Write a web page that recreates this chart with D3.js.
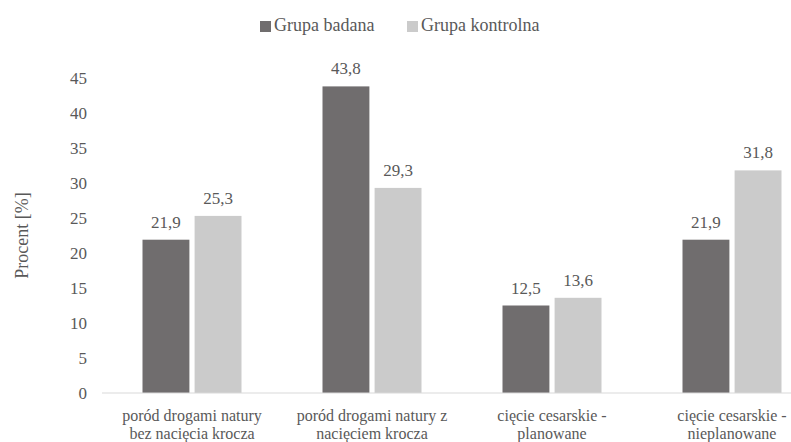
<!DOCTYPE html>
<html>
<head>
<meta charset="utf-8">
<script src="https://cdn.jsdelivr.net/npm/d3@7"></script>
<style>
  html, body { margin: 0; padding: 0; background: #fff; }
  svg { display: block; }
  svg text { font-family: "Liberation Serif", "Times New Roman", serif; }
</style>
</head>
<body>
<svg id="chart" width="791" height="442"></svg>
<script>
// Delivery method by study group (percent)
const categories = [
  ["poród drogami natury", "bez nacięcia krocza"],
  ["poród drogami natury z", "nacięciem krocza"],
  ["cięcie cesarskie -", "planowane"],
  ["cięcie cesarskie -", "nieplanowane"]
];
const seriesNames = ["Grupa badana", "Grupa kontrolna"];
const grupaBadana = [21.9, 43.8, 12.5, 21.9];
const grupaKontrolna = [25.3, 29.3, 13.6, 31.8];
const yTicks = [0, 5, 10, 15, 20, 25, 30, 35, 40, 45];
const colors = ["#706d6e", "#cbcbcb"];

const FONT = '"Liberation Serif", "Times New Roman", serif';
const svg = d3.select("#chart");
const textColor = "#595959";

const y = d3.scaleLinear().domain([0, 45]).range([393, 78]);
const x0 = d3.scaleBand()
  .domain(d3.range(categories.length))
  .range([102, 822])
  .paddingInner(0.45)
  .paddingOuter(0.225);
const x1 = d3.scaleBand()
  .domain([0, 1])
  .range([0, x0.bandwidth()])
  .paddingInner(0.1);

const series = [grupaBadana, grupaKontrolna];

// Bars
const groups = svg.append("g").selectAll("g")
  .data(categories.map((c, i) => i))
  .join("g")
  .attr("transform", i => `translate(${x0(i)},0)`);

groups.selectAll("rect")
  .data(i => series.map((s, k) => ({ k, v: s[i] })))
  .join("rect")
  .attr("x", d => x1(d.k))
  .attr("width", x1.bandwidth())
  .attr("y", d => y(d.v))
  .attr("height", d => y(0) - y(d.v))
  .attr("fill", d => colors[d.k]);

// Value labels
groups.selectAll("text.val")
  .data(i => series.map((s, k) => ({ k, v: s[i] })))
  .join("text")
  .attr("class", "val")
  .attr("x", d => x1(d.k) + x1.bandwidth() / 2)
  .attr("y", d => y(d.v) - 12)
  .attr("text-anchor", "middle")
  .style("font-family", FONT)
  .attr("font-size", 17)
  .attr("fill", textColor)
  .text(d => d.v.toFixed(1).replace(".", ","));

// Baseline
svg.append("line")
  .attr("x1", 102).attr("x2", 791)
  .attr("y1", y(0)).attr("y2", y(0))
  .attr("stroke", "#d9d9d9").attr("stroke-width", 1);

// Y axis ticks (labels only)
const yAxis = d3.axisLeft(y).tickValues(yTicks).tickSize(0).tickPadding(0);
const yg = svg.append("g").attr("transform", "translate(87,0)").call(yAxis);
yg.select(".domain").remove();
yg.attr("font-family", null).attr("font-size", null);
yg.selectAll("text")
  .style("font-family", FONT)
  .attr("font-size", 17)
  .attr("fill", textColor);

// Y axis title
svg.append("text")
  .attr("transform", `translate(28,${(y(0) + y(45)) / 2}) rotate(-90)`)
  .attr("text-anchor", "middle")
  .style("font-family", FONT)
  .attr("font-size", 18)
  .attr("fill", textColor)
  .text("Procent [%]");

// Category labels (two lines each)
const cat = svg.append("g").selectAll("text")
  .data(categories)
  .join("text")
  .attr("x", (d, i) => x0(i) + x0.bandwidth() / 2)
  .attr("y", 421)
  .attr("text-anchor", "middle")
  .style("font-family", FONT)
  .attr("font-size", 16)
  .attr("fill", textColor);
cat.selectAll("tspan")
  .data(d => d)
  .join("tspan")
  .attr("x", function () { return d3.select(this.parentNode).attr("x"); })
  .attr("dy", (d, j) => j === 0 ? 0 : 18)
  .text(d => d);

// Legend
const legendX = [260, 407];
const legend = svg.append("g").selectAll("g")
  .data(seriesNames)
  .join("g")
  .attr("transform", (d, i) => `translate(${legendX[i]},0)`);
legend.append("rect")
  .attr("x", 0).attr("y", 21)
  .attr("width", 11).attr("height", 11)
  .attr("fill", (d, i) => colors[i]);
legend.append("text")
  .attr("x", 14).attr("y", 31)
  .style("font-family", FONT)
  .attr("font-size", 18)
  .attr("fill", textColor)
  .text(d => d);
</script>
</body>
</html>
